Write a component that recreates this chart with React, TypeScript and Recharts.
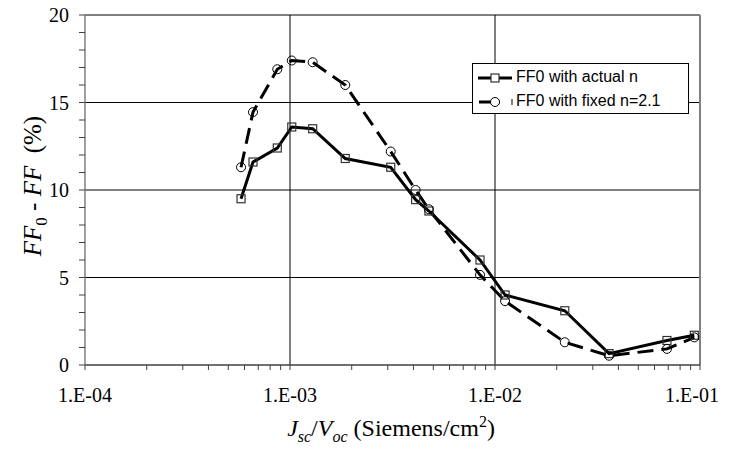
import { LineChart, Line, XAxis, YAxis, ReferenceLine } from 'recharts';

// Jsc/Voc values (S/cm2), shared by both series
const conductance = [
  5.77e-4, 6.6e-4, 8.67e-4, 1.02e-3, 1.29e-3, 1.86e-3, 3.1e-3, 4.1e-3, 4.76e-3,
  8.45e-3, 1.12e-2, 2.19e-2, 3.6e-2, 6.9e-2, 9.38e-2,
];
const actualN = [9.5, 11.6, 12.4, 13.6, 13.5, 11.8, 11.3, 9.45, 8.8, 6.0, 4.0, 3.1, 0.65, 1.4, 1.7];
const fixedN = [11.3, 14.45, 16.9, 17.4, 17.3, 16.0, 12.2, 10.0, 8.9, 5.15, 3.65, 1.3, 0.53, 0.92, 1.58];

const xMajor = [1e-4, 1e-3, 1e-2, 1e-1];
const xMajorLabels = ['1.E-04', '1.E-03', '1.E-02', '1.E-01'];
const xTicks = [
  1e-4, 2e-4, 3e-4, 4e-4, 5e-4, 6e-4, 7e-4, 8e-4, 9e-4,
  1e-3, 2e-3, 3e-3, 4e-3, 5e-3, 6e-3, 7e-3, 8e-3, 9e-3,
  1e-2, 2e-2, 3e-2, 4e-2, 5e-2, 6e-2, 7e-2, 8e-2, 9e-2,
  1e-1,
];
const yTicks = [0, 1, 2, 3, 4, 5, 6, 7, 8, 9, 10, 11, 12, 13, 14, 15, 16, 17, 18, 19, 20];
const yMajor = [0, 5, 10, 15, 20];

const data = conductance.map((x, i) => ({ x, actual: actualN[i], fixed: fixedN[i] }));

const serif = '"Liberation Serif", "Times New Roman", serif';
const sans = '"Liberation Sans", Arial, sans-serif';

const XTick = (props: any) => {
  const { x, y, payload } = props;
  const idx = xMajor.indexOf(payload.value);
  // keep the last label inside the visible page
  const lx = Math.min(x, 692);
  return (
    <g>
      <line x1={x} x2={x} y1={y} y2={y + 5} stroke="#404040" />
      {idx >= 0 && (
        <text
          x={lx}
          y={y + 37}
          textAnchor="middle"
          fontFamily={serif}
          fontSize={20}
          style={{ fontFamily: serif, fontSize: 20, fill: '#000' }}
        >
          {xMajorLabels[idx]}
        </text>
      )}
    </g>
  );
};

const YTick = (props: any) => {
  const { x, y, payload } = props;
  const major = yMajor.includes(payload.value);
  return (
    <g>
      <line x1={x - 6} x2={x} y1={y} y2={y} stroke="#404040" />
      {major && (
        <text
          x={x - 16}
          y={y + 7}
          textAnchor="end"
          fontFamily={serif}
          fontSize={20}
          style={{ fontFamily: serif, fontSize: 20, fill: '#000' }}
        >
          {payload.value}
        </text>
      )}
    </g>
  );
};

const SquareDot = (props: any) => {
  const { cx, cy, index } = props;
  return (
    <rect key={`sq-${index}`} x={cx - 4} y={cy - 4} width={8} height={8} fill="none" stroke="#333" strokeWidth={1.2} />
  );
};

const CircleDot = (props: any) => {
  const { cx, cy, index } = props;
  return <circle key={`ci-${index}`} cx={cx} cy={cy} r={4.5} fill="none" stroke="#000" strokeWidth={1} />;
};

const LegendBox = () => (
  <div
    style={{
      position: 'absolute',
      left: 472,
      top: 63,
      width: 215,
      height: 49,
      border: '1px solid #000',
      background: '#fff',
      fontFamily: sans,
      fontSize: 16,
      color: '#000',
    }}
  >
    <svg width={44} height={49} style={{ position: 'absolute', left: 0, top: 0 }}>
      <line x1={5} x2={39} y1={14} y2={14} stroke="#000" strokeWidth={3} />
      <rect x={18} y={10} width={8} height={8} fill="#fff" stroke="#333" strokeWidth={1.2} />
      <line x1={6} x2={27} y1={38} y2={38} stroke="#000" strokeWidth={3} />
      <circle cx={22} cy={38} r={4.5} fill="#fff" stroke="#000" />
      <line x1={39} x2={39} y1={35} y2={41} stroke="#000" strokeWidth={1} />
    </svg>
    <div style={{ position: 'absolute', left: 43, top: 4 }}>FF0 with actual n</div>
    <div style={{ position: 'absolute', left: 43, top: 28 }}>FF0 with fixed n=2.1</div>
  </div>
);

export default function App() {
  return (
    <div style={{ position: 'relative', width: 729, height: 451, margin: '-8px 0 -8px -8px' }}>
      <LineChart width={729} height={451} data={data} margin={{ top: 15, right: 29, left: 25, bottom: 56 }}>
        <XAxis
          dataKey="x"
          type="number"
          scale="log"
          domain={[1e-4, 1e-1]}
          ticks={xTicks}
          interval={0}
          allowDataOverflow
          height={30}
          tickSize={0}
          tickMargin={0}
          tickLine={false}
          axisLine={{ stroke: '#404040', strokeWidth: 1.5 }}
          tick={<XTick />}
        />
        <YAxis
          type="number"
          domain={[0, 20]}
          ticks={yTicks}
          interval={0}
          width={60}
          tickSize={0}
          tickMargin={0}
          tickLine={false}
          axisLine={{ stroke: '#808080', strokeWidth: 1.5 }}
          tick={<YTick />}
        />
        {[5, 10, 15].map((v) => (
          <ReferenceLine key={`h${v}`} y={v} stroke="#000" strokeWidth={1} />
        ))}
        <ReferenceLine y={20} stroke="#000" strokeWidth={1} />
        {[1e-3, 1e-2].map((v) => (
          <ReferenceLine key={`v${v}`} x={v} stroke="#000" strokeWidth={1} />
        ))}
        <ReferenceLine x={1e-1} stroke="#808080" strokeWidth={2} />
        <Line
          dataKey="actual"
          name="FF0 with actual n"
          stroke="#000"
          strokeWidth={3}
          dot={SquareDot}
          activeDot={false}
          isAnimationActive={false}
        />
        <Line
          dataKey="fixed"
          name="FF0 with fixed n=2.1"
          stroke="#000"
          strokeWidth={3}
          strokeDasharray="16 8"
          dot={CircleDot}
          activeDot={false}
          isAnimationActive={false}
        />
      </LineChart>
      <LegendBox />
      <div
        style={{
          position: 'absolute',
          left: 35,
          top: 186,
          transform: 'translate(-50%, -50%) rotate(-90deg)',
          whiteSpace: 'nowrap',
          fontFamily: serif,
          fontSize: 25,
        }}
      >
        <i>FF</i>
        <sub style={{ fontSize: 17 }}>0</sub> - <i>FF</i>&nbsp;&nbsp;(%)
      </div>
      <div
        style={{
          position: 'absolute',
          left: 391,
          top: 428,
          transform: 'translate(-50%, -50%)',
          whiteSpace: 'nowrap',
          fontFamily: serif,
          fontSize: 24,
          lineHeight: '24px',
        }}
      >
        <i>J</i>
        <sub style={{ fontSize: 16, lineHeight: 0 }}>
          <i>sc</i>
        </sub>
        /<i>V</i>
        <sub style={{ fontSize: 16, lineHeight: 0 }}>
          <i>oc</i>
        </sub>{' '}
        (Siemens/cm<sup style={{ fontSize: 16, lineHeight: 0 }}>2</sup>)
      </div>
    </div>
  );
}
